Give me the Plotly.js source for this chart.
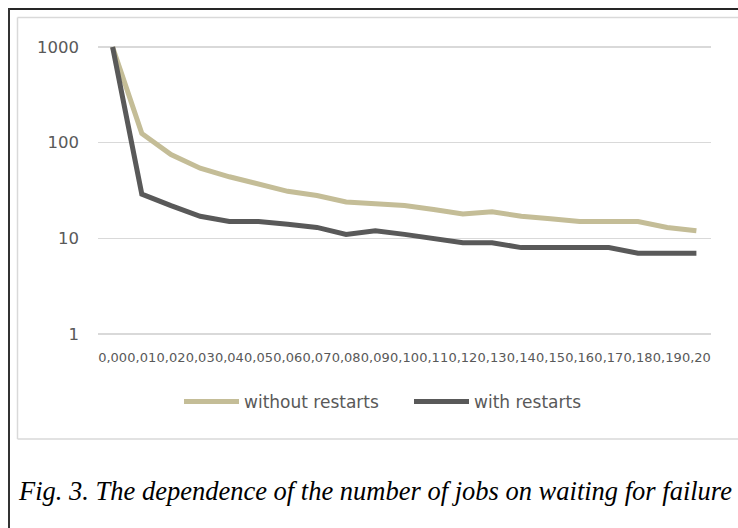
<!DOCTYPE html>
<html>
<head>
<meta charset="utf-8">
<script src="https://cdn.plot.ly/plotly-3.0.1.min.js"></script>
<style>html,body{margin:0;padding:0;background:#fff;overflow:hidden;}#chart{width:738px;height:528px;}</style>
</head>
<body>
<div id="chart"></div>
<script>
const categories = ["0,00","0,01","0,02","0,03","0,04","0,05","0,06","0,07","0,08","0,09","0,10","0,11","0,12","0,13","0,14","0,15","0,16","0,17","0,18","0,19","0,20"];
const withoutRestarts = [1000,125,75,54,44,37,31,28,24,23,22,20,18,19,17,16,15,15,15,13,12];
const withRestarts = [1000,29,22,17,15,15,14,13,11,12,11,10,9,9,8,8,8,8,7,7,7];
const yTickVals = [1,10,100,1000];
const yTickText = ["1","10","100","1000"];
const seriesNames = ["without restarts","with restarts"];
const caption = "Fig. 3. The dependence of the number of jobs on waiting for failure";

// pixel helpers for plot area: x 98..711, y 30..340
const L = 98, R = 711, T = 30, B = 340;
const px = v => (v - L) / (R - L);
const py = v => (B - v) / (B - T);

const traces = [
  {x: categories, y: withoutRestarts, name: seriesNames[0], type: 'scatter', mode: 'lines',
   line: {color: '#C4BD97', width: 5}},
  {x: categories, y: withRestarts, name: seriesNames[1], type: 'scatter', mode: 'lines',
   line: {color: '#595959', width: 5}}
];

function hline(x0, x1, y, color, w) {
  return {type: 'line', xref: 'paper', yref: 'paper', x0: px(x0), x1: px(x1), y0: py(y), y1: py(y),
          line: {color: color, width: w}, layer: 'below'};
}
function vline(x, y0, y1, color, w) {
  return {type: 'line', xref: 'paper', yref: 'paper', x0: px(x), x1: px(x), y0: py(y0), y1: py(y1),
          line: {color: color, width: w}, layer: 'below'};
}

const layout = {
  width: 738, height: 528,
  margin: {l: L, r: 738 - R, t: T, b: 528 - B, pad: 0},
  paper_bgcolor: '#fff', plot_bgcolor: '#fff',
  showlegend: true,
  font: {family: 'DejaVu Sans', color: '#595959'},
  xaxis: {
    type: 'category', range: [-0.5, 20.5], showgrid: false, zeroline: false, showline: false,
    ticks: '', tickfont: {size: 13, color: '#595959', family: 'DejaVu Sans'},
    tickangle: 0, ticklabelstandoff: 8, fixedrange: true
  },
  yaxis: {
    type: 'log', range: [-0.0627, 3.1777],
    tickvals: yTickVals, ticktext: yTickText,
    showgrid: true, gridcolor: '#D9D9D9', gridwidth: 1.3,
    zeroline: false, showline: false, ticks: '',
    tickfont: {size: 16.5, color: '#595959', family: 'DejaVu Sans'},
    ticklabelstandoff: 18, fixedrange: true
  },
  legend: {
    orientation: 'h', x: px(179), xanchor: 'left', y: py(402), yanchor: 'middle',
    font: {size: 17, color: '#595959', family: 'DejaVu Sans'},
    entrywidth: 160, entrywidthmode: 'pixels', itemwidth: 55,
    bgcolor: 'rgba(0,0,0,0)'
  },
  shapes: [
    hline(8, 738, 9, '#262626', 2),
    vline(9, 8, 528, '#333333', 2),
    hline(17.5, 738, 17.5, '#D9D9D9', 1.5),
    vline(17.5, 17.5, 439, '#D9D9D9', 1.5),
    hline(17.5, 738, 439, '#D9D9D9', 1.5)
  ],
  annotations: [
    {text: caption, xref: 'paper', yref: 'paper', x: px(16), xanchor: 'left', y: py(491), yanchor: 'middle',
     showarrow: false, font: {family: 'Liberation Serif', size: 26.5, color: '#000', style: 'italic'}}
  ]
};

Plotly.newPlot('chart', traces, layout, {displayModeBar: false, staticPlot: true});
</script>
</body>
</html>
